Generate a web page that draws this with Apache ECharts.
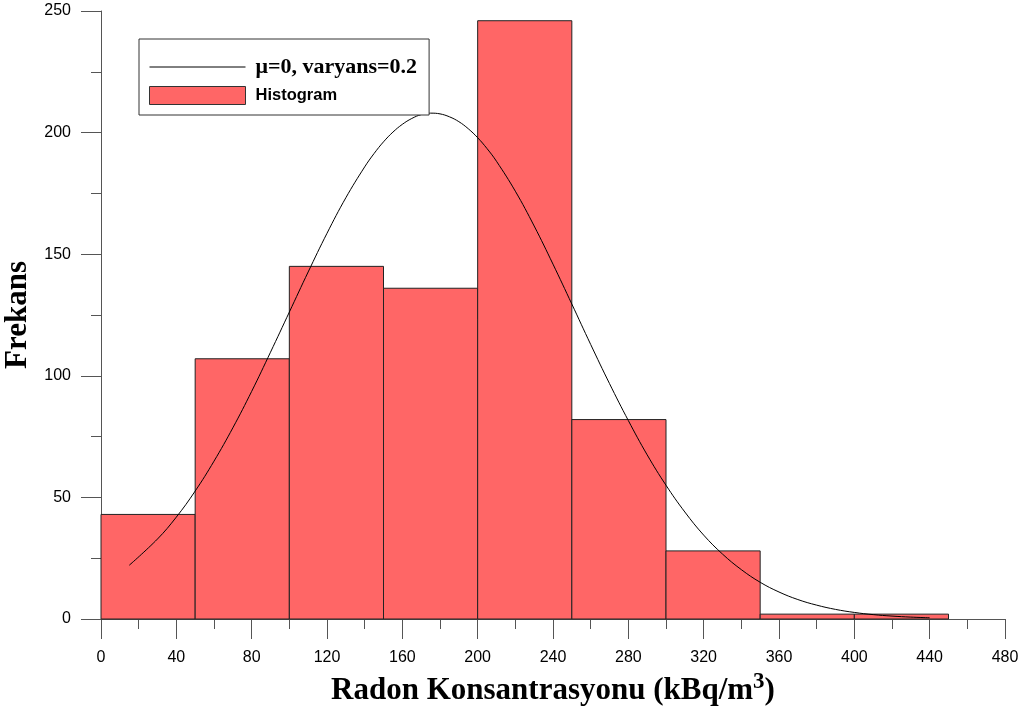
<!DOCTYPE html>
<html>
<head>
<meta charset="utf-8">
<script src="https://cdn.jsdelivr.net/npm/echarts@6/dist/echarts.min.js"></script>
<style>
  html, body { margin: 0; padding: 0; background: #fff; }
  #chart { width: 1025px; height: 713px; }
</style>
</head>
<body>
<div id="chart"></div>
<script>
// histogram bins (kBq/m3) and counts
var binStart = [0, 50, 100, 150, 200, 250, 300, 350, 400];
var binEnd   = [50, 100, 150, 200, 250, 300, 350, 400, 450];
var counts   = [43, 107, 145, 136, 246, 82, 28, 2, 2];

// fitted curve, values (denser around the peak)
var curveX = [15, 30, 40, 50, 60, 70, 80, 90, 100, 110, 120, 130, 140, 145, 150, 155, 160, 165, 170, 175,
              180, 185, 190, 195, 200, 205, 210, 220, 230, 240, 250, 260, 270, 280, 290, 300, 310, 320,
              330, 340, 350, 360, 370, 380, 390, 400, 410, 420, 430, 440];
var curveY = [22.1, 32.9, 41.9, 52.6, 64.9, 78.6, 93.6, 109.7, 126.2, 142.7, 158.6, 173.2, 185.9, 191.4,
              196.2, 200.2, 203.4, 205.8, 207.4, 208.0, 207.7, 206.5, 204.5, 201.6, 197.9, 193.4, 188.2,
              175.9, 161.6, 145.9, 129.5, 112.9, 96.8, 81.6, 67.5, 55, 44, 34.5, 26.7, 20.3, 15.1, 11.1,
              8, 5.7, 3.95, 2.7, 1.8, 1.2, 0.78, 0.5];

var xTicks = [0, 40, 80, 120, 160, 200, 240, 280, 320, 360, 400, 440, 480];
var yTicks = [0, 50, 100, 150, 200, 250];

var curveName = 'μ=0, varyans=0.2';
var histName = 'Histogram';

var histData = binStart.map(function (s, i) { return [s, binEnd[i], counts[i]]; });
var curveData = curveX.map(function (x, i) { return [x, curveY[i]]; });

var myChart = echarts.init(document.getElementById('chart'));

var axisColor = '#555';

var option = {
  animation: false,
  backgroundColor: '#fff',
  grid: { left: 101, right: 20, top: 11, bottom: 94, containLabel: false, outerBoundsMode: 'none' },
  legend: {
    orient: 'vertical',
    left: 139,
    top: 39,
    padding: [17, 12, 10, 10],
    itemGap: 8,
    itemWidth: 96,
    itemHeight: 18,
    backgroundColor: '#fff',
    borderColor: '#333',
    borderWidth: 1,
    borderRadius: 0,
    data: [
      { name: curveName, itemStyle: { opacity: 0 }, lineStyle: { color: '#000', width: 1 } },
      { name: histName, icon: 'rect', itemStyle: { color: '#FF6666', borderColor: '#333', borderWidth: 1 } }
    ],
    formatter: function (name) {
      return name === histName ? '{b|' + name + '}' : '{a|' + name + '}';
    },
    textStyle: {
      rich: {
        a: { fontFamily: 'Liberation Serif', fontWeight: 'bold', fontSize: 22, lineHeight: 22, color: '#000', padding: [0, 0, 0, 5] },
        b: { fontFamily: 'Liberation Sans', fontWeight: 'bold', fontSize: 16.5, lineHeight: 18, color: '#000', padding: [0, 0, 0, 5] }
      }
    }
  },
  xAxis: {
    type: 'value',
    min: 0,
    max: 480,
    interval: 40,
    name: '{a|Radon Konsantrasyonu (kBq/m}{s|3}{a|)}',
    nameLocation: 'middle',
    nameGap: 50,
    nameTextStyle: {
      rich: {
        a: { fontFamily: 'Liberation Serif', fontWeight: 'bold', fontSize: 31, color: '#000' },
        s: { fontFamily: 'Liberation Serif', fontWeight: 'bold', fontSize: 23, color: '#000', verticalAlign: 'bottom', padding: [0, 0, 18, 0] }
      }
    },
    axisLine: { show: true, lineStyle: { color: axisColor, width: 1 } },
    axisTick: { show: true, length: 20, lineStyle: { color: axisColor } },
    minorTick: { show: true, splitNumber: 2, length: 10, lineStyle: { color: axisColor } },
    splitLine: { show: false },
    axisLabel: {
      margin: 31,
      fontFamily: 'Liberation Sans',
      fontSize: 16,
      color: '#000',
      formatter: function (v) { return xTicks.indexOf(v) >= 0 ? String(v) : ''; }
    }
  },
  yAxis: {
    type: 'value',
    min: 0,
    max: 250,
    interval: 50,
    name: 'Frekans',
    nameLocation: 'middle',
    nameGap: 59,
    nameTextStyle: { fontFamily: 'Liberation Serif', fontWeight: 'bold', fontSize: 31, color: '#000' },
    axisLine: { show: true, lineStyle: { color: axisColor, width: 1 } },
    axisTick: { show: true, length: 20, lineStyle: { color: axisColor } },
    minorTick: { show: true, splitNumber: 2, length: 10, lineStyle: { color: axisColor } },
    splitLine: { show: false },
    axisLabel: {
      margin: 30,
      fontFamily: 'Liberation Sans',
      fontSize: 16,
      color: '#000',
      formatter: function (v) { return yTicks.indexOf(v) >= 0 ? String(v) : ''; }
    }
  },
  series: [
    {
      name: histName,
      type: 'custom',
      data: histData,
      encode: { x: [0, 1], y: 2 },
      renderItem: function (params, api) {
        var p0 = api.coord([api.value(0), 0]);
        var p1 = api.coord([api.value(1), api.value(2)]);
        return {
          type: 'rect',
          shape: { x: p0[0], y: p1[1], width: p1[0] - p0[0], height: p0[1] - p1[1] },
          style: { fill: '#FF6666', stroke: '#222', lineWidth: 1 }
        };
      },
      z: 2
    },
    {
      name: curveName,
      type: 'line',
      data: curveData,
      smooth: 0.4,
      smoothConstraint: false,
      symbol: 'none',
      itemStyle: { color: '#000' },
      lineStyle: { color: '#000', width: 1 },
      z: 3
    }
  ]
};

myChart.setOption(option);
</script>
</body>
</html>
